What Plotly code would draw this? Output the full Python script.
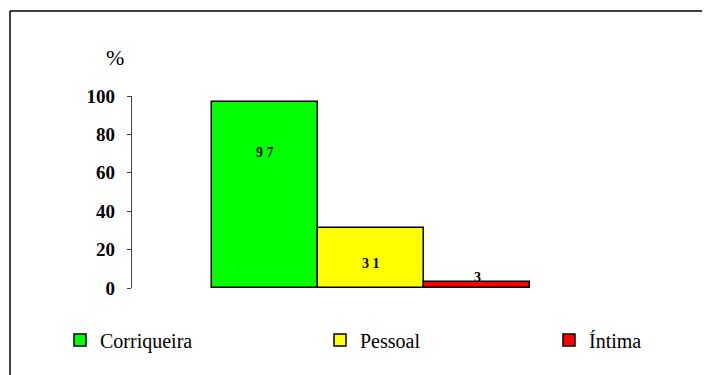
import plotly.graph_objects as go

# Categories and percentages
categories = ["Corriqueira", "Pessoal", "Íntima"]
values = [97, 31, 3]
colors = ["#00FF00", "#FFFF00", "#FF0000"]
y_ticks = [0, 20, 40, 60, 80, 100]

# Vertical placement of the value labels (in axis units)
label_y = [70.8, 13.0, 5.7]

W, H = 704, 375
L, R, T, B = 132, 94, 96, 87
plot_w = W - L - R
plot_h = H - T - B
x_range = [-1.2547, 3.2547]


def paper_x(px):
    return (px - L) / plot_w


def paper_y(py):
    return (H - B - py) / plot_h


font_family = "Liberation Serif"

fig = go.Figure()
legend_ids = ["legend", "legend2", "legend3"]
for i, (cat, val, col) in enumerate(zip(categories, values, colors)):
    fig.add_trace(go.Bar(
        x=[i], y=[val], width=1, name=cat,
        marker=dict(color=col, line=dict(color="black", width=1.5)),
        legend=legend_ids[i], hoverinfo="skip",
    ))
    fig.add_annotation(
        x=i, y=label_y[i], xref="x", yref="y",
        text="<b>" + " ".join(str(val)) + "</b>", showarrow=False,
        font=dict(family=font_family, size=14, color="black"),
    )

# Legend entries laid out in one row below the plot
legend_text_px = [100, 360, 589]
legend_layouts = {}
for lid, tx in zip(legend_ids, legend_text_px):
    legend_layouts[lid] = dict(
        x=paper_x(tx - 40), xanchor="left",
        y=paper_y(340), yanchor="middle",
        orientation="h", bgcolor="rgba(0,0,0,0)",
        font=dict(family=font_family, size=20, color="black"),
    )

fig.add_annotation(
    x=paper_x(104), y=paper_y(43), xref="paper", yref="paper",
    text="%", showarrow=False,
    font=dict(family=font_family, size=22, color="black"),
)

# Outer frame (top and left edges; the rest lies past the page)
frame = dict(type="line", xref="paper", yref="paper",
             line=dict(color="black", width=1.5))
fig.add_shape(x0=paper_x(10), x1=paper_x(702), y0=paper_y(11), y1=paper_y(11), **frame)
fig.add_shape(x0=paper_x(10), x1=paper_x(10), y0=paper_y(11), y1=paper_y(375), **frame)

fig.update_layout(
    width=W, height=H,
    margin=dict(l=L, r=R, t=T, b=B),
    font=dict(family=font_family, color="black"),
    paper_bgcolor="white", plot_bgcolor="white",
    barmode="overlay", bargap=0,
    showlegend=True,
    **legend_layouts,
)
fig.update_xaxes(range=x_range, visible=False, fixedrange=True)
fig.update_yaxes(
    range=[0, 100], tickvals=y_ticks,
    ticktext=["<b>%d</b>" % t for t in y_ticks],
    showgrid=False, zeroline=False,
    showline=True, linecolor="#404040", linewidth=1.2,
    ticks="outside", ticklen=4, tickcolor="#404040", tickwidth=1.2,
    ticklabelstandoff=8,
    tickfont=dict(family=font_family, size=19, color="black"),
    fixedrange=True,
)

fig.write_html("out.html")
